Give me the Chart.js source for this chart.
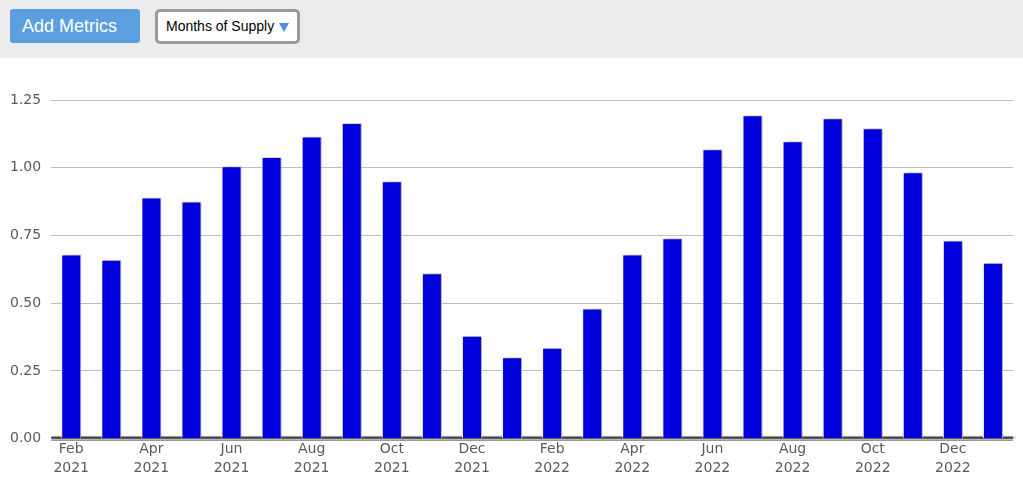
<!DOCTYPE html>
<html>
<head>
<meta charset="utf-8">
<script src="https://cdn.jsdelivr.net/npm/chart.js@4/dist/chart.umd.min.js"></script>
<style>
    html, body { margin: 0; padding: 0; background: #fff; width: 1023px; height: 491px; overflow: hidden; }
    .toolbar { height: 58px; background: #ececec; position: relative; }
    .add-btn {
        position: absolute; left: 10px; top: 9px; width: 130px; height: 34px;
        background: #5b9fe0; border-radius: 3px; color: #fff;
        font: 18px "Liberation Sans", Arial, sans-serif; line-height: 34px;
        box-sizing: border-box; padding-left: 12px;
    }
    .select-box {
        position: absolute; left: 155px; top: 9px; height: 29px;
        background: #fff; border: 3px solid #9a9a9a; border-radius: 5px;
        font: 14px "Liberation Sans", Arial, sans-serif; line-height: 29px; color: #000;
        padding-left: 8px; width: 131px;
    }
    .select-box .arrow {
        position: absolute; right: 8px; top: 11px; width: 0; height: 0;
        border-left: 5px solid transparent; border-right: 5px solid transparent; border-top: 9px solid #4a8ee0;
    }
    .chart-wrap { position: absolute; left: 0; top: 58px; width: 1023px; height: 433px; }
</style>
</head>
<body>
<div class="toolbar">
    <div class="add-btn">Add Metrics</div>
    <div class="select-box">Months of Supply<span class="arrow"></span></div>
</div>
<div class="chart-wrap"><canvas id="supplyChart"></canvas></div>
<script>
    const months = ['Feb', 'Mar', 'Apr', 'May', 'Jun', 'Jul', 'Aug', 'Sep', 'Oct', 'Nov', 'Dec', 'Jan',
                    'Feb', 'Mar', 'Apr', 'May', 'Jun', 'Jul', 'Aug', 'Sep', 'Oct', 'Nov', 'Dec', 'Jan'];
    const years = ['2021', '2021', '2021', '2021', '2021', '2021', '2021', '2021', '2021', '2021', '2021', '2022',
                   '2022', '2022', '2022', '2022', '2022', '2022', '2022', '2022', '2022', '2022', '2022', '2023'];
    const monthsOfSupply = [0.68, 0.66, 0.89, 0.875, 1.005, 1.04, 1.115, 1.165, 0.95, 0.61, 0.38, 0.30,
                            0.335, 0.48, 0.68, 0.74, 1.068, 1.194, 1.098, 1.183, 1.146, 0.983, 0.731, 0.649];
    const yTicks = [0, 0.25, 0.5, 0.75, 1.0, 1.25];

    const labels = months.map((m, i) => [m, years[i]]);

    // Drop shadow on the right of each bar
    const barShadow = {
        id: 'barShadow',
        beforeDatasetsDraw(chart) {
            const ctx = chart.ctx;
            ctx.save();
            ctx.shadowColor = 'rgba(0,0,0,0.25)';
            ctx.shadowBlur = 2;
            ctx.shadowOffsetX = 3;
            ctx.shadowOffsetY = 0;
        },
        afterDatasetsDraw(chart) {
            chart.ctx.restore();
        }
    };

    // Double base line at zero
    const baseLine = {
        id: 'baseLine',
        beforeDatasetsDraw(chart) {
            const ctx = chart.ctx;
            const y = chart.scales.y.getPixelForValue(0);
            const { left, right } = chart.chartArea;
            ctx.save();
            ctx.fillStyle = '#3a3a3a';
            ctx.fillRect(left, y - 2, right - left, 2);
            ctx.restore();
        },
        afterDatasetsDraw(chart) {
            const ctx = chart.ctx;
            const y = chart.scales.y.getPixelForValue(0);
            const { left, right } = chart.chartArea;
            ctx.save();
            ctx.fillStyle = '#555';
            ctx.fillRect(left, y + 1, right - left, 1);
            ctx.restore();
        }
    };

    new Chart(document.getElementById('supplyChart').getContext('2d'), {
        type: 'bar',
        data: {
            labels: labels,
            datasets: [{
                label: 'Months of Supply',
                data: monthsOfSupply,
                backgroundColor: '#0000dc',
                borderColor: '#e8e8f4',
                borderWidth: 1,
                barPercentage: 0.52,
                categoryPercentage: 0.96
            }]
        },
        options: {
            responsive: true,
            maintainAspectRatio: false,
            animation: false,
            layout: { padding: { top: 42, right: 10, left: 0, bottom: 12 } },
            plugins: {
                legend: { display: false },
                tooltip: { enabled: false }
            },
            scales: {
                x: {
                    grid: { display: false, drawTicks: false },
                    border: { display: false },
                    ticks: {
                        autoSkip: false,
                        maxRotation: 0,
                        padding: 2,
                        color: '#5a5a5a',
                        font: { family: 'DejaVu Sans', size: 14, lineHeight: 1.3 },
                        callback: function (value, index) {
                            return index % 2 === 0 ? labels[index] : '';
                        }
                    }
                },
                y: {
                    min: 0,
                    max: 1.25,
                    afterBuildTicks: axis => { axis.ticks = yTicks.map(v => ({ value: v })); },
                    grid: { color: '#bdbdbd', lineWidth: 1, drawTicks: false },
                    border: { display: false },
                    ticks: {
                        padding: 10,
                        color: '#5a5a5a',
                        font: { family: 'DejaVu Sans', size: 14 },
                        callback: v => Number(v).toFixed(2)
                    }
                }
            }
        },
        plugins: [barShadow, baseLine]
    });
</script>
</body>
</html>
